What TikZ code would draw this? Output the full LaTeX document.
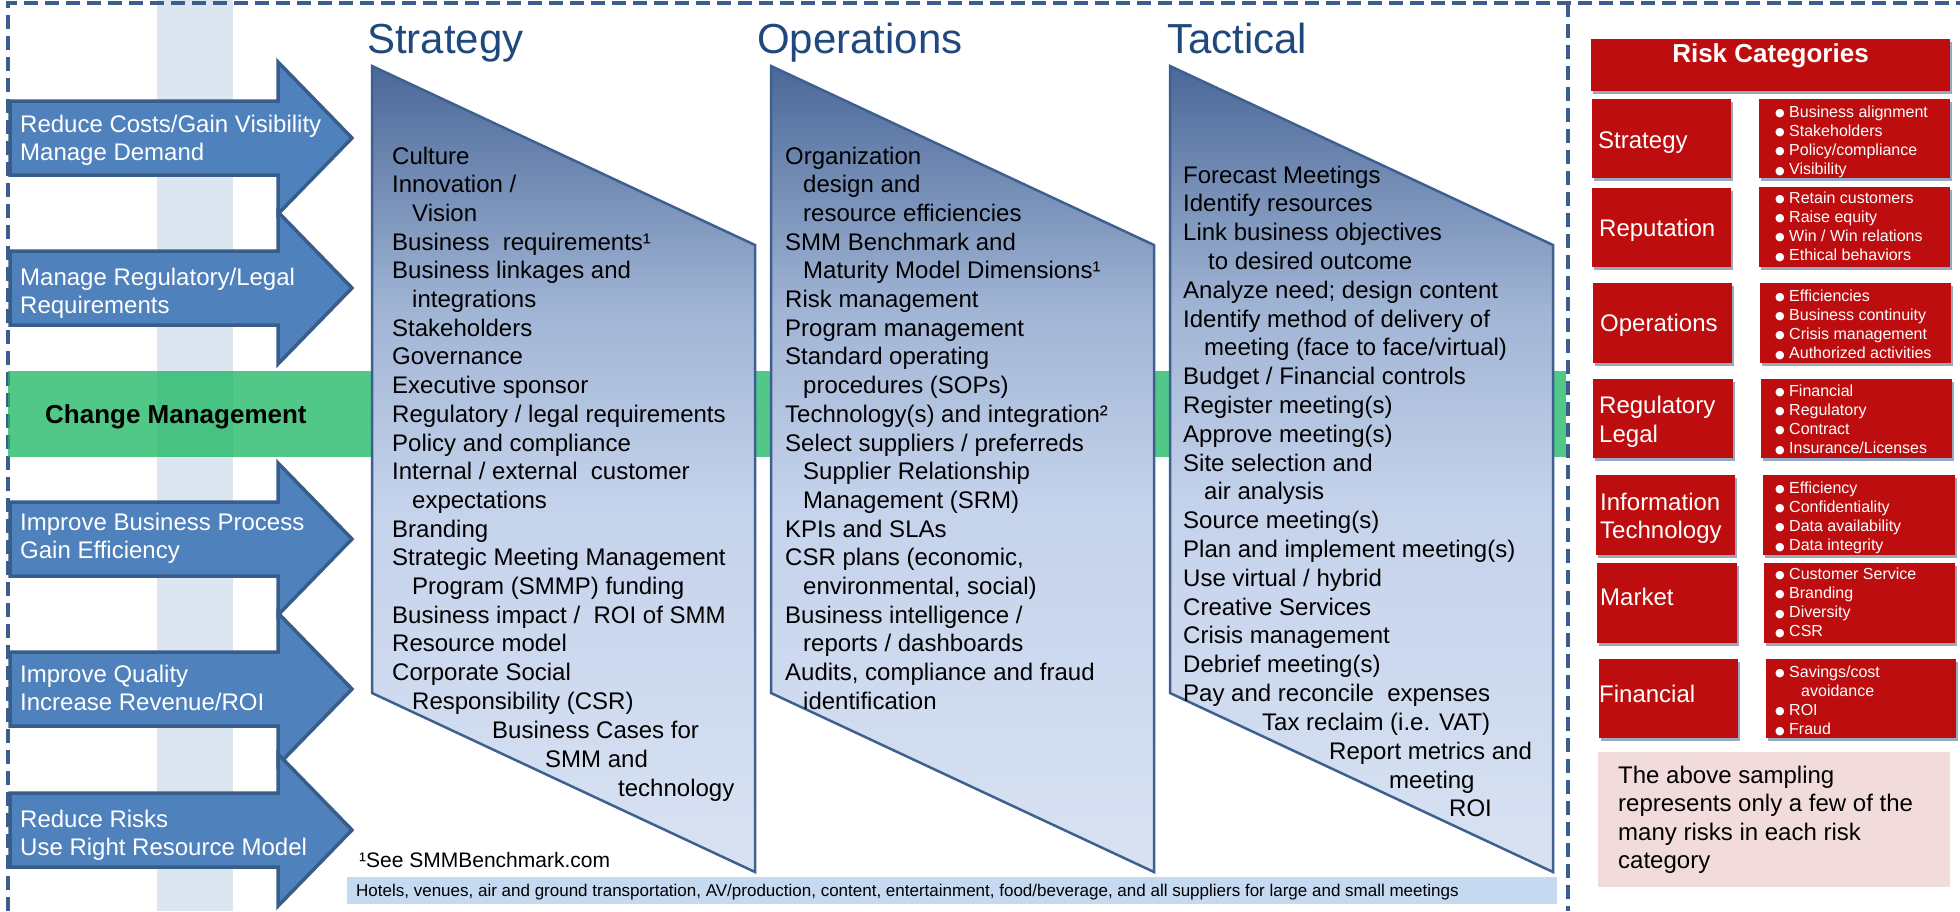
\documentclass[tikz,border=0pt]{standalone}
\usepackage{fontspec}
\setmainfont{Liberation Sans}
\newfontfamily\symfont{DejaVu Sans}
\usetikzlibrary{fit,shadows}
\definecolor{arrfill}{RGB}{79,129,189}
\definecolor{arrline}{RGB}{56,93,138}
\definecolor{colband}{RGB}{220,230,241}
\definecolor{chg}{RGB}{28,184,99}
\definecolor{framecol}{RGB}{59,94,143}
\definecolor{hdr}{RGB}{31,73,125}
\definecolor{pline}{RGB}{62,96,145}
\definecolor{riskred}{RGB}{190,13,14}
\definecolor{pinkbox}{RGB}{242,220,219}
\definecolor{suppband}{RGB}{197,217,241}
\definecolor{shadowcol}{RGB}{70,95,140}
\definecolor{gtop}{RGB}{74,104,152}
\definecolor{gmid}{RGB}{160,180,212}
\definecolor{glight}{RGB}{196,210,235}
\definecolor{gbot}{RGB}{216,226,242}
\pgfdeclareverticalshading{colshade}{100bp}{color(0bp)=(gbot); color(25bp)=(gbot); color(48bp)=(glight); color(60bp)=(gmid); color(75bp)=(gtop); color(100bp)=(gtop)}
\newcommand\bulletmark{\makebox[14pt][l]{\raisebox{0.5pt}{\symfont\fontsize{11}{12}\selectfont ●}}}
\newcommand\txtlines[6][]{\foreach \mylinetxt [count=\myi] in {#6}{\node[linetext,#1,anchor=base west] (#2\myi) at ({#3},{#4+(\myi-1)*#5}) {\mylinetxt};}}
\newcommand\bigarrow[5]{%
  \draw[bigarr] (10,#2-37) -- (278,#2-37) -- (278,#2-76) -- (352,#2) -- (278,#2+76) -- (278,#2+37) -- (10,#2+37) -- cycle;
  \node[arrtext] (#1a) at (20,#3) {#4};
  \node[arrtext] (#1b) at (20,#3+28) {#5};}
\newcommand\colshape[1]{\shadedraw[colshp] (#1,66) -- (#1+383,245) -- (#1+383,872) -- (#1,693) -- cycle;}
\begin{document}
\begin{tikzpicture}[x=1pt,y=-1pt,
  frameline/.style={draw=framecol, line width=4.5pt, dash pattern=on 14pt off 7pt},
  bigarr/.style={fill=arrfill, draw=arrline, line width=3.5pt, line join=miter},
  arrtext/.style={text=white, font=\fontsize{24}{28}\selectfont, inner sep=0pt, anchor=base west},
  linetext/.style={font=\fontsize{24}{28}\selectfont, inner sep=0pt},
  hdrtext/.style={text=hdr, font=\fontsize{42}{48}\selectfont, inner sep=0pt, anchor=base west},
  colshp/.style={shading=colshade, draw=pline, line width=2.5pt},
  riskbox/.style={fill=riskred, inner sep=0pt, drop shadow={shadow xshift=2pt, shadow yshift=-3pt, fill=shadowcol, opacity=0.55}},
  risklabel/.style={linetext, text=white, anchor=base west},
  bullettext/.style={text=white, font=\fontsize{16}{19}\selectfont},
]
\useasboundingbox (0,0) rectangle (1960,911);
% light column
\fill[colband] (157,0) rectangle (233,911);
% dashed frame
\draw[frameline] (8,911) -- (8,3) -- (1960,3);
\draw[frameline] (1568,3) -- (1568,911);
% arrows
\bigarrow{ar1}{138}{132}{Reduce Costs/Gain Visibility}{Manage Demand}
\bigarrow{ar2}{288}{285}{Manage Regulatory/Legal}{Requirements}
\bigarrow{ar3}{539}{530}{Improve Business Process}{Gain Efficiency}
\bigarrow{ar4}{689}{682}{Improve Quality}{Increase Revenue/ROI}
\bigarrow{ar5}{830}{827}{Reduce Risks}{Use Right Resource Model}
% change management band
\fill[chg, opacity=0.77] (8,371) rectangle (1566,457);
\node[inner sep=0pt, anchor=base west, font=\fontsize{26}{30}\selectfont\bfseries] (chm) at (45,423) {Change Management};
% column shapes
\colshape{372}
\colshape{771}
\colshape{1170}
% headers
\node[hdrtext] (hs) at (367,53) {Strategy};
\node[hdrtext] (ho) at (757,53) {Operations};
\node[hdrtext] (ht) at (1167,53) {Tactical};
% strategy text
\txtlines{st}{392}{164}{28.7}{Culture, Innovation /, \hspace*{20pt}Vision, Business\ \ requirements¹, Business linkages and, \hspace*{20pt}integrations, Stakeholders, Governance, Executive sponsor, Regulatory / legal requirements, Policy and compliance, Internal / external\ \ customer, \hspace*{20pt}expectations, Branding, Strategic Meeting Management, \hspace*{20pt}Program (SMMP) funding, Business impact /\ \ ROI of SMM, Resource model, Corporate Social, \hspace*{20pt}Responsibility (CSR)}
\node[linetext, anchor=base west] (sbc1) at (492,738) {Business Cases for};
\node[linetext, anchor=base west] (sbc2) at (545,767) {SMM and};
\node[linetext, anchor=base west] (sbc3) at (618,796) {technology};
% operations text
\txtlines{op}{785}{164}{28.7}{Organization, \hspace*{18pt}design and, \hspace*{18pt}resource efficiencies, SMM Benchmark and, \hspace*{18pt}Maturity Model Dimensions¹, Risk management, Program management, Standard operating, \hspace*{18pt}procedures (SOPs), Technology(s) and integration², Select suppliers / preferreds, \hspace*{18pt}Supplier Relationship, \hspace*{18pt}Management (SRM), KPIs and SLAs, {CSR plans (economic,}, \hspace*{18pt}{environmental, social)}, Business intelligence /, \hspace*{18pt}reports / dashboards, {Audits, compliance and fraud}, \hspace*{18pt}identification}
% tactical text
\txtlines{tc}{1183}{183}{28.8}{Forecast Meetings, Identify resources, Link business objectives, \hspace*{25pt}to desired outcome, Analyze need; design content, Identify method of delivery of, \hspace*{21pt}meeting (face to face/virtual), Budget / Financial controls, Register meeting(s), Approve meeting(s), Site selection and, \hspace*{21pt}air analysis, Source meeting(s), Plan and implement meeting(s), Use virtual / hybrid, Creative Services, Crisis management, Debrief meeting(s), Pay and reconcile\ \ expenses}
\node[linetext, anchor=base west] (tx1) at (1262,730) {Tax reclaim (i.e. VAT)};
\node[linetext, anchor=base west] (tx2) at (1329,759) {Report metrics and};
\node[linetext, anchor=base west] (tx3) at (1389,788) {meeting};
\node[linetext, anchor=base west] (tx4) at (1449,816) {ROI};
% footnote
\node[inner sep=0pt, anchor=base west, font=\fontsize{21}{24}\selectfont] (fn) at (359,867) {¹See SMMBenchmark.com};
% supplier band
\node[fit={(347,877) (1557,904)}, fill=suppband, inner sep=0pt] (supp) {};
\node[inner sep=0pt, anchor=base west, font=\fontsize{17}{20}\selectfont] (supptext) at (356,896) {Hotels, venues, air and ground transportation, AV/production, content, entertainment, food/beverage, and all suppliers for large and small meetings};
% risk panel
\node[riskbox, fit={(1591,39) (1950,91)}, text=white, font=\fontsize{26}{30}\selectfont\bfseries] (rtitle) {Risk Categories};
\node[riskbox, fit={(1592,99) (1731,178)}] (rl1) {};
\node[riskbox, fit={(1592,188) (1731,267)}] (rl2) {};
\node[riskbox, fit={(1593,283) (1732,363)}] (rl3) {};
\node[riskbox, fit={(1593,379) (1733,458)}] (rl4) {};
\node[riskbox, fit={(1596,475) (1735,555)}] (rl5) {};
\node[riskbox, fit={(1597,563) (1737,643)}] (rl6) {};
\node[riskbox, fit={(1599,659) (1738,738)}] (rl7) {};
\node[riskbox, fit={(1759,99) (1950,178)}] (rr1) {};
\node[riskbox, fit={(1759,187) (1950,267)}] (rr2) {};
\node[riskbox, fit={(1760,283) (1951,363)}] (rr3) {};
\node[riskbox, fit={(1761,379) (1952,458)}] (rr4) {};
\node[riskbox, fit={(1763,475) (1955,555)}] (rr5) {};
\node[riskbox, fit={(1764,563) (1955,643)}] (rr6) {};
\node[riskbox, fit={(1766,659) (1956,738)}] (rr7) {};
\node[risklabel] (lb1) at (1598,148) {Strategy};
\node[risklabel] (lb2) at (1599,236) {Reputation};
\node[risklabel] (lb3) at (1600,331) {Operations};
\node[risklabel] (lb4a) at (1599,413) {Regulatory};
\node[risklabel] (lb4b) at (1599,442) {Legal};
\node[risklabel] (lb5a) at (1600,510) {Information};
\node[risklabel] (lb5b) at (1600,538) {Technology};
\node[risklabel] (lb6) at (1600,605) {Market};
\node[risklabel] (lb7) at (1599,702) {Financial};
\txtlines[bullettext]{bs}{1775}{117}{19.2}{\bulletmark Business alignment, \bulletmark Stakeholders, \bulletmark Policy/compliance, \bulletmark Visibility}
\txtlines[bullettext]{br}{1775}{203}{19.2}{\bulletmark Retain customers, \bulletmark Raise equity, \bulletmark Win / Win relations, \bulletmark Ethical behaviors}
\txtlines[bullettext]{bo}{1775}{301}{19.2}{\bulletmark Efficiencies, \bulletmark Business continuity, \bulletmark Crisis management, \bulletmark Authorized activities}
\txtlines[bullettext]{bg}{1775}{396}{19.2}{\bulletmark Financial, \bulletmark Regulatory, \bulletmark Contract, \bulletmark Insurance/Licenses}
\txtlines[bullettext]{bi}{1775}{493}{19.2}{\bulletmark Efficiency, \bulletmark Confidentiality, \bulletmark Data availability, \bulletmark Data integrity}
\txtlines[bullettext]{bm}{1775}{579}{19.3}{\bulletmark Customer Service, \bulletmark Branding, \bulletmark Diversity, \bulletmark CSR}
\txtlines[bullettext]{bf}{1775}{677}{19.2}{\bulletmark Savings/cost, \hspace*{26pt}avoidance, \bulletmark ROI, \bulletmark Fraud}
% note box
\node[fit={(1598,752) (1950,887)}, fill=pinkbox, inner sep=0pt] (note) {};
\txtlines{nt}{1618}{783}{28.5}{The above sampling, represents only a few of the, many risks in each risk, category}
\end{tikzpicture}
\end{document}
